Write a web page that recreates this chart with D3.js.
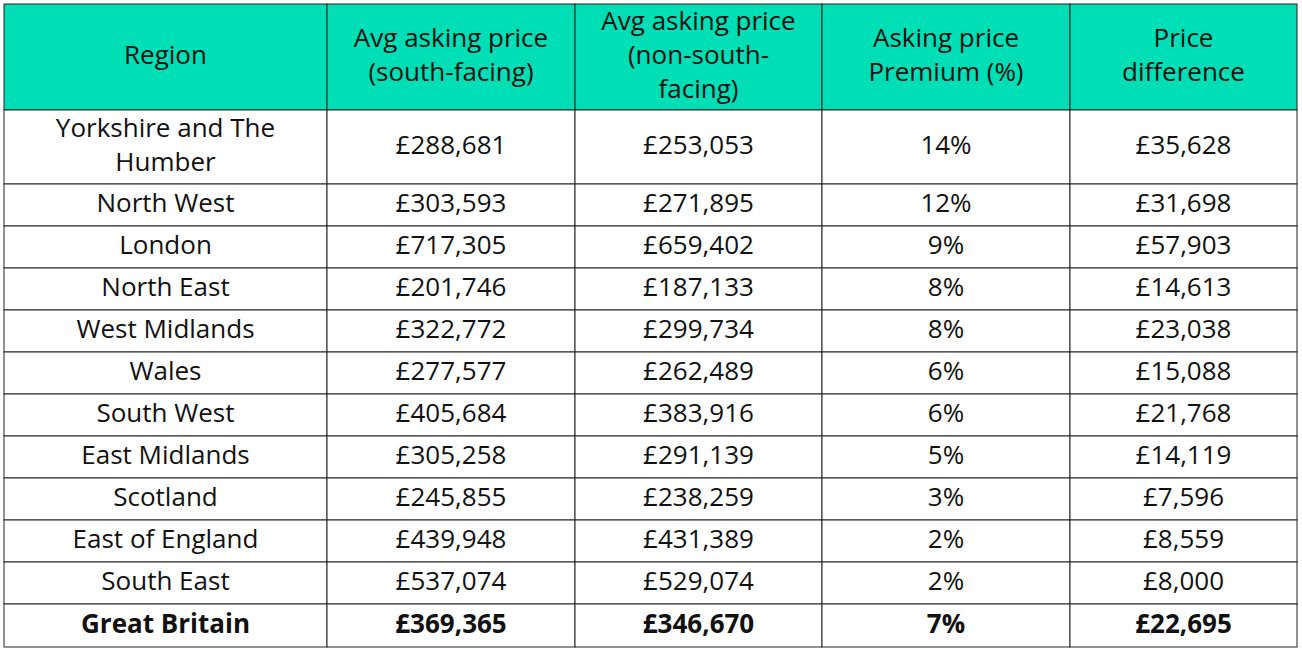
<!DOCTYPE html>
<html><head><meta charset="utf-8">
<script src="https://cdn.jsdelivr.net/npm/d3@7"></script>
<style>body{margin:0;background:#fff}</style></head>
<body><svg id="c" width="1302" height="654"></svg>
<script>
const headers = [["Region"],["Avg asking price","(south-facing)"],["Avg asking price","(non-south-","facing)"],["Asking price","Premium (%)"],["Price","difference"]];
const regions = [["Yorkshire and The","Humber"],["North West"],["London"],["North East"],["West Midlands"],["Wales"],["South West"],["East Midlands"],["Scotland"],["East of England"],["South East"],["Great Britain"]];
const southFacing = ["£288,681","£303,593","£717,305","£201,746","£322,772","£277,577","£405,684","£305,258","£245,855","£439,948","£537,074","£369,365"];
const nonSouth = ["£253,053","£271,895","£659,402","£187,133","£299,734","£262,489","£383,916","£291,139","£238,259","£431,389","£529,074","£346,670"];
const premium = ["14%","12%","9%","8%","8%","6%","6%","5%","3%","2%","2%","7%"];
const difference = ["£35,628","£31,698","£57,903","£14,613","£23,038","£15,088","£21,768","£14,119","£7,596","£8,559","£8,000","£22,695"];

const svg = d3.select("#c");
const colEdges = [4,327,575,822,1070,1297];
const rowEdges = [4,110,184,226,268,310,352,394,436,478,520,562,604,647];
const font = "'Open Sans', sans-serif";
const lh = 34;

function cell(x0,x1,y0,y1,lines,opts){
  const g = svg.append("g");
  g.append("rect").attr("x",x0).attr("y",y0).attr("width",x1-x0).attr("height",y1-y0)
   .attr("fill",opts.fill).attr("stroke","#222").attr("stroke-width",1);
  const cy=(y0+y1)/2-3, n=lines.length;
  g.selectAll("text").data(lines).join("text")
   .attr("x",(x0+x1)/2).attr("y",(d,i)=>cy+(i-(n-1)/2)*lh)
   .attr("text-anchor","middle").attr("dominant-baseline","central")
   .attr("font-family",font).attr("font-size",26).attr("fill","#111")
   .attr("font-weight",opts.bold?"bold":"normal").text(d=>d);
}
headers.forEach((h,c)=>cell(colEdges[c],colEdges[c+1],rowEdges[0],rowEdges[1],h,{fill:"#00DEB6"}));
regions.forEach((r,i)=>{
  const vals=[r,[southFacing[i]],[nonSouth[i]],[premium[i]],[difference[i]]];
  const bold = i===regions.length-1;
  vals.forEach((v,c)=>cell(colEdges[c],colEdges[c+1],rowEdges[i+1],rowEdges[i+2],v,{fill:"#fff",bold}));
});
</script></body></html>
